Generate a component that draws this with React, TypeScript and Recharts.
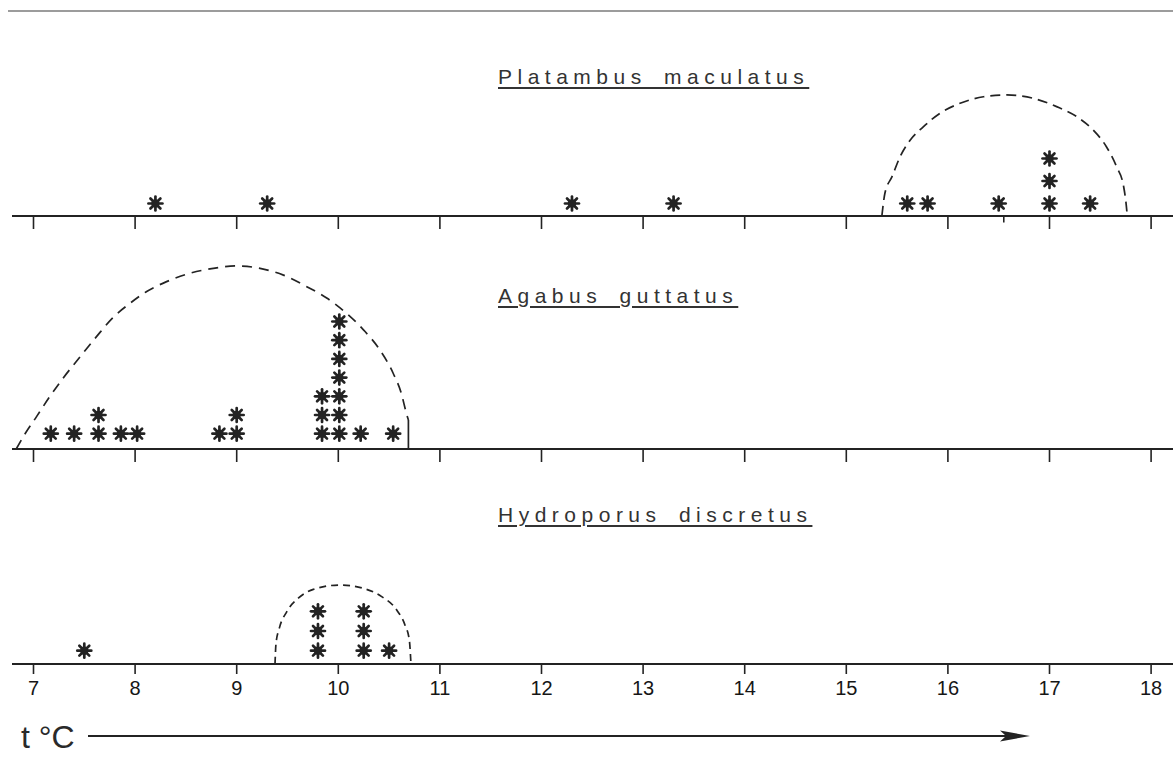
import React from 'react';
import { ComposedChart, XAxis, YAxis, Scatter, Line, ReferenceLine } from 'recharts';

// ---- tick labels (temperature, °C)
const tempTicks = [7, 8, 9, 10, 11, 12, 13, 14, 15, 16, 17, 18];

// ---- Platambus maculatus
const platambusTemps = [8.2, 9.3, 12.3, 13.3, 15.6, 15.8, 16.5, 17.0, 17.4];
const platambusCounts = [1, 1, 1, 1, 1, 1, 1, 3, 1];
const platambusCurveT = [15.35, 15.38, 15.45, 15.53, 15.63, 15.76, 15.92, 16.12, 16.35, 16.58, 16.84, 17.07, 17.27, 17.43, 17.56, 17.66, 17.73, 17.76, 17.765];
const platambusCurveH = [0, 1.01, 1.75, 2.64, 3.38, 3.97, 4.56, 5.01, 5.3, 5.38, 5.23, 4.86, 4.41, 3.82, 3.08, 2.19, 1.3, 0.27, 0];
const platambusOptimum = 16.55;

// ---- Agabus guttatus
const agabusTemps = [7.17, 7.4, 7.64, 7.86, 8.02, 8.83, 9.0, 9.84, 10.01, 10.22, 10.54];
const agabusCounts = [1, 1, 2, 1, 1, 1, 2, 3, 7, 1, 1];
const agabusCurveT = [6.83, 6.92, 7.03, 7.16, 7.29, 7.46, 7.62, 7.79, 7.95, 8.11, 8.31, 8.54, 8.77, 9.0, 9.23, 9.46, 9.69, 9.89, 10.08, 10.25, 10.41, 10.54, 10.62, 10.67, 10.69];
const agabusCurveH = [0, 0.84, 1.73, 2.8, 3.78, 4.94, 6.01, 7.07, 7.79, 8.41, 8.95, 9.4, 9.66, 9.79, 9.66, 9.3, 8.68, 8.06, 7.26, 6.36, 5.29, 4.05, 2.98, 1.91, 1.55];
const agabusEdgeT = [10.69, 10.69];
const agabusEdgeH = [1.55, 0];

// ---- Hydroporus discretus
const hydroporusTemps = [7.5, 9.8, 10.25, 10.5];
const hydroporusCounts = [1, 3, 3, 1];
const hydroporusCurveT = [9.377, 9.387, 9.419, 9.492, 9.606, 9.754, 10.017, 10.246, 10.427, 10.575, 10.656, 10.699, 10.713, 10.715];
const hydroporusCurveH = [0, 1.05, 1.81, 2.65, 3.34, 3.79, 4.01, 3.84, 3.42, 2.74, 1.98, 1.22, 0.2, 0];

// ---- layout
const W = 1173;
const X_AT_7 = 33.5;
const PX_PER_DEG = 101.6;
const PLOT_LEFT = 12;
const T_MIN = 7 - (X_AT_7 - PLOT_LEFT) / PX_PER_DEG;
const T_MAX = 7 + (W - X_AT_7) / PX_PER_DEG;
const INK = '#232323';

const stack = (temps: number[], counts: number[]) =>
  temps.flatMap((t, i) => Array.from({ length: counts[i] }, (_, j) => ({ t, k: j + 1 })));
const curve = (ts: number[], hs: number[]) => ts.map((t, i) => ({ t, h: hs[i] }));

const EmptyTick = () => <g />;

const StarShape = (props: any) => {
  const { cx, cy } = props;
  if (cx == null || cy == null || isNaN(cx) || isNaN(cy)) return null;
  const r = 7;
  return (
    <g>
      {[0, 45, 90, 135].map((a) => {
        const rad = (a * Math.PI) / 180;
        return (
          <line
            key={a}
            x1={cx - r * Math.cos(rad)}
            y1={cy - r * Math.sin(rad)}
            x2={cx + r * Math.cos(rad)}
            y2={cy + r * Math.sin(rad)}
            stroke={INK}
            strokeWidth={2.7}
            strokeLinecap="round"
          />
        );
      })}
      <circle cx={cx} cy={cy} r={4.2} fill={INK} />
    </g>
  );
};

type PanelProps = {
  base: number;
  plotH: number;
  spacing: number;
  first: number;
  stars: { t: number; k: number }[];
  curvePts: { t: number; h: number }[];
  dash: string;
  edge?: { t: number; h: number }[];
  optimum?: number;
  labels?: boolean;
  tickSize: number;
};

function Panel({ base, plotH, spacing, first, stars, curvePts, dash, edge, optimum, labels, tickSize }: PanelProps) {
  const xAxisH = labels ? 44 : 30;
  const starMin = 1 - first / spacing;
  const span = plotH / spacing;
  return (
    <div style={{ position: 'absolute', left: 0, top: base - plotH }}>
      <ComposedChart width={W} height={plotH + xAxisH} margin={{ top: 0, right: 0, bottom: 0, left: PLOT_LEFT }}>
        <XAxis
          type="number"
          dataKey="t"
          domain={[T_MIN, T_MAX]}
          allowDataOverflow
          ticks={tempTicks}
          interval={0}
          height={xAxisH}
          tickSize={tickSize}
          tickMargin={labels ? 7 : 2}
          axisLine={{ stroke: INK, strokeWidth: 2 }}
          tickLine={{ stroke: INK, strokeWidth: 1.6 }}
          tick={labels ? { fill: '#161616', fontSize: 20, fontFamily: 'Liberation Sans' } : EmptyTick}
        />
        <YAxis yAxisId="stars" type="number" dataKey="k" domain={[starMin, starMin + span]} allowDataOverflow hide />
        <YAxis yAxisId="curve" type="number" dataKey="h" domain={[0, span]} allowDataOverflow hide />
        <Line
          yAxisId="curve"
          data={curvePts}
          dataKey="h"
          type="monotone"
          stroke={INK}
          strokeWidth={1.7}
          strokeDasharray={dash}
          dot={false}
          activeDot={false}
          isAnimationActive={false}
        />
        {edge && (
          <Line
            yAxisId="curve"
            data={edge}
            dataKey="h"
            type="linear"
            stroke={INK}
            strokeWidth={1.7}
            dot={false}
            activeDot={false}
            isAnimationActive={false}
          />
        )}
        {optimum != null && (
          <ReferenceLine
            yAxisId="curve"
            segment={[{ x: optimum, y: 0 }, { x: optimum, y: -6.5 / spacing }]}
            stroke={INK}
            strokeWidth={1.6}
            ifOverflow="visible"
          />
        )}
        <Scatter yAxisId="stars" data={stars} shape={StarShape} isAnimationActive={false} />
      </ComposedChart>
    </div>
  );
}

const titleStyle = (top: number): React.CSSProperties => ({
  position: 'absolute',
  left: 498,
  top,
  fontFamily: 'Liberation Sans',
  fontSize: 21,
  lineHeight: '21px',
  letterSpacing: '5.5px',
  wordSpacing: '6px',
  color: '#333',
  textDecoration: 'underline',
  textDecorationThickness: '2px',
  textUnderlineOffset: '3px',
  whiteSpace: 'nowrap',
});

export default function App() {
  return (
    <div style={{ position: 'absolute', left: 0, top: 0, width: W, height: 769, background: '#fff', overflow: 'hidden' }}>
      <div style={{ position: 'absolute', left: 8, top: 10, width: W - 8, height: 1.5, background: '#9c9c9c' }} />

      <div style={titleStyle(66)}>Platambus maculatus</div>
      <div style={titleStyle(285)}>Agabus guttatus</div>
      <div style={titleStyle(504)}>Hydroporus discretus</div>

      <Panel
        base={216}
        plotH={190}
        spacing={22.5}
        first={12.5}
        stars={stack(platambusTemps, platambusCounts)}
        curvePts={curve(platambusCurveT, platambusCurveH)}
        dash="10 6"
        optimum={platambusOptimum}
        tickSize={13}
      />
      <Panel
        base={449}
        plotH={200}
        spacing={18.7}
        first={15.3}
        stars={stack(agabusTemps, agabusCounts)}
        curvePts={curve(agabusCurveT, agabusCurveH)}
        edge={curve(agabusEdgeT, agabusEdgeH)}
        dash="10 7"
        tickSize={13}
      />
      <Panel
        base={664}
        plotH={130}
        spacing={19.7}
        first={13.3}
        stars={stack(hydroporusTemps, hydroporusCounts)}
        curvePts={curve(hydroporusCurveT, hydroporusCurveH)}
        dash="7 5"
        labels
        tickSize={10}
      />

      <div
        style={{
          position: 'absolute',
          left: 21,
          top: 721,
          fontFamily: 'Liberation Sans',
          fontSize: 32,
          lineHeight: '32px',
          color: '#2a2a2a',
          whiteSpace: 'nowrap',
        }}
      >
        t °C
      </div>
      <svg style={{ position: 'absolute', left: 0, top: 720 }} width={W} height={30}>
        <line x1={88} y1={16} x2={1006} y2={16} stroke={INK} strokeWidth={1.8} />
        <polygon points="1000,10.5 1030,16 1000,21.5 1006,16" fill={INK} />
      </svg>
    </div>
  );
}
